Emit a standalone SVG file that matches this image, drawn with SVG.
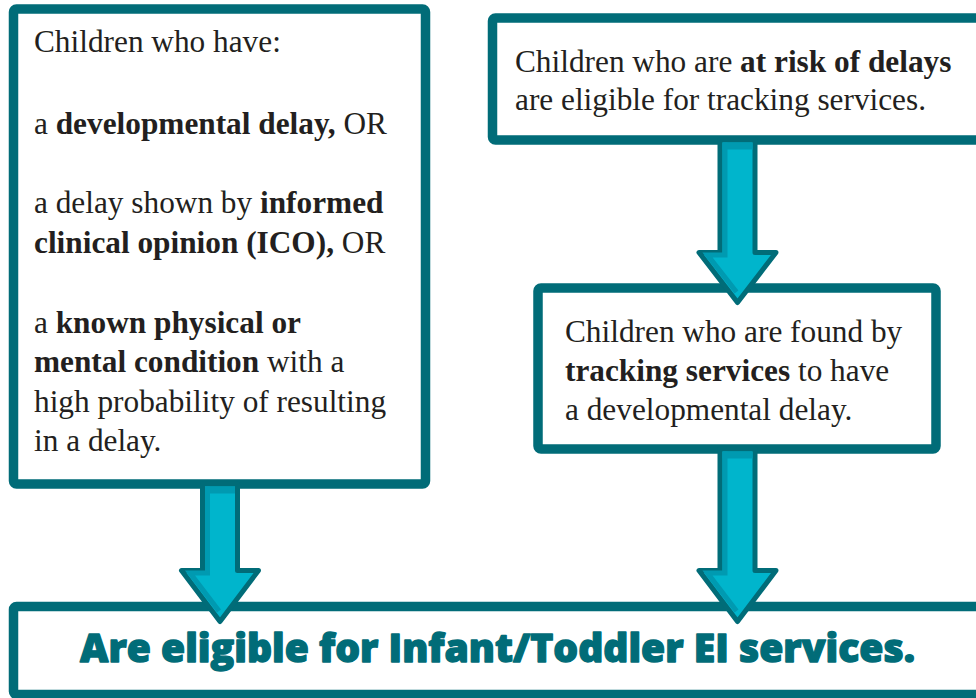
<svg xmlns="http://www.w3.org/2000/svg" width="976" height="698" viewBox="0 0 976 698">
<style>
.box{fill:#ffffff;stroke:#016c78;stroke-width:9.5;}
.t{font-family:"Liberation Serif","Times New Roman",serif;font-size:31.3px;fill:#231f20;}
.b{font-weight:bold;}
.arr{fill:#00b5cc;stroke:#016c78;stroke-width:5;stroke-linejoin:round;}
.sh{fill:none;stroke:#009ab1;stroke-width:5;}
.shr{fill:#009ab1;}
.big{font-family:"Open Sans","Lato",sans-serif;font-weight:800;font-size:38px;fill:#016c78;stroke:#016c78;stroke-width:1.3;stroke-linejoin:round;}
</style>
<rect width="976" height="698" fill="#ffffff"/>
<g id="box1">
<rect class="box" x="13.5" y="9" width="412" height="475" rx="3"/>
<text class="t" x="34" y="52">Children who have:</text>
<text class="t" x="34" y="134">a <tspan class="b">developmental delay,</tspan> OR</text>
<text class="t" x="34" y="213">a delay shown by <tspan class="b">informed</tspan></text>
<text class="t" x="34" y="253"><tspan class="b">clinical opinion (ICO),</tspan> OR</text>
<text class="t" x="34" y="333">a <tspan class="b">known physical or</tspan></text>
<text class="t" x="34" y="372"><tspan class="b">mental condition</tspan> with a</text>
<text class="t" x="34" y="412">high probability of resulting</text>
<text class="t" x="34" y="451">in a delay.</text>
</g>
<g id="box2">
<rect class="box" x="492.5" y="18" width="500" height="122" rx="3"/>
<text class="t" x="515" y="72">Children who are <tspan class="b">at risk of delays</tspan></text>
<text class="t" x="515" y="110">are eligible for tracking services.</text>
</g>
<g id="box3">
<rect class="box" x="538" y="288" width="398" height="161" rx="3"/>
<text class="t" x="565" y="342">Children who are found by</text>
<text class="t" x="565" y="381"><tspan class="b">tracking services</tspan> to have</text>
<text class="t" x="565" y="420">a developmental delay.</text>
</g>
<g id="box4">
<rect class="box" x="13.5" y="606.5" width="980" height="88" rx="3"/>
<text class="big" x="80" y="662" textLength="835" lengthAdjust="spacingAndGlyphs">Are eligible for Infant/Toddler EI services.</text>
</g>
<g id="connectors">
<g id="arrow1">
<path class="arr" d="M202.5 484 L237.5 484 L237.5 570.5 L258.5 570.5 L220 621.5 L181.5 570.5 L202.5 570.5 Z"/>
<rect class="shr" x="205" y="486.5" width="30" height="7"/>
<path class="sh" d="M207.5 486.5 V573 H190 L219 611"/>
</g>
<g id="arrow2">
<path class="arr" d="M720 140 L755 140 L755 252.5 L776 252.5 L737.5 302.5 L699 252.5 L720 252.5 Z"/>
<rect class="shr" x="722.5" y="142.5" width="30" height="7"/>
<path class="sh" d="M725 142.5 V255 H707.5 L736.5 292"/>
</g>
<g id="arrow3">
<path class="arr" d="M720 449 L755 449 L755 570.5 L776 570.5 L737.5 621.5 L699 570.5 L720 570.5 Z"/>
<rect class="shr" x="722.5" y="451.5" width="30" height="7"/>
<path class="sh" d="M725 451.5 V573 H707.5 L736.5 611"/>
</g>
</g>
</svg>
